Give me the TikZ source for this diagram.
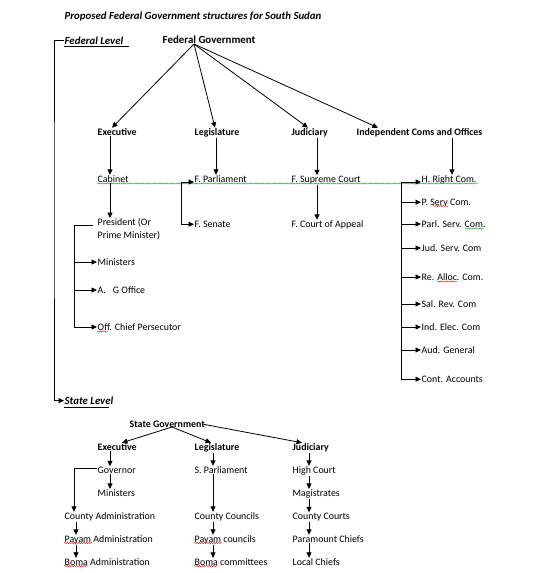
\documentclass[tikz,border=0pt]{standalone}
\usepackage{fontspec}
\setmainfont{Carlito}
\usetikzlibrary{arrows.meta,decorations.pathmorphing,calc}
\begin{document}
\begin{tikzpicture}[x=1pt,y=-1pt,
  every node/.style={inner sep=0.5pt,anchor=mid west,font=\fontsize{9.9}{13}\selectfont},
  hdr/.style={font=\fontsize{9.9}{13}\selectfont\bfseries},
  bi/.style={font=\fontsize{10.8}{13}\selectfont\bfseries\itshape},
  arr/.style={-{Triangle[length=5.5pt,width=5pt]},line width=0.8pt},
  ln/.style={line width=0.8pt},
  wavy/.style={decorate,decoration={snake,segment length=2.4pt,amplitude=0.6pt},line width=0.45pt},
  wg/.style={wavy,draw={rgb,255:red,40;green,170;blue,40}},
  wr/.style={wavy,draw={rgb,255:red,230;green,30;blue,30}}]
\useasboundingbox (0,0) rectangle (552,573);
% ---------- title and levels
\node[bi] (title) at (64,17) {Proposed Federal Government structures for South Sudan};
\node[bi] (fedlevel) at (64,42) {Federal Level};
\draw[ln] (64,46) -- (129,46);
\node[bi] (statelevel) at (64,402) {State Level};
\draw[ln] (64,407) -- (109,407);
\coordinate (lc) at (54,200);
\draw[arr] (fedlevel.west) -| (lc) |- (statelevel.west);
% ---------- federal
\node[font=\fontsize{10.9}{13}\selectfont\bfseries] (fedgov) at (162,41) {Federal Government};
\coordinate (fg) at (194,44);
\node[hdr] (exec) at (97,133) {Executive};
\node[hdr] (legis) at (194,133) {Legislature};
\node[hdr] (judic) at (291,133) {Judiciary};
\node[hdr] (indep) at (356,133) {Independent Coms and Offices};
\draw[arr] (fg) -- ($(exec.north west)+(15,0)$);
\draw[arr] (fg) -- ($(legis.north west)+(21,0)$);
\draw[arr] (fg) -- ($(judic.north west)+(17,0)$);
\draw[arr] (fg) -- ($(indep.north west)+(22,0)$);
\coordinate (xE) at (110,0);
\coordinate (xL) at (216,0);
\coordinate (xJ) at (317,0);
\coordinate (xI) at (452,0);
\node (cab) at (97,180) {Cabinet};
\node (fparl) at (194,180) {F. Parliament};
\node (fsup) at (291,180) {F. Supreme Court};
\node (hright) at (421,180) {H. Right Com.};
\draw[arr] (exec.south -| xE) -- (cab.north -| xE);
\draw[arr] (legis.south -| xL) -- (fparl.north -| xL);
\draw[arr] (judic.south -| xJ) -- (fsup.north -| xJ);
\draw[arr] (indep.south -| xI) -- (hright.north -| xI);
\draw[wg] (97,183.5) -- (478,183.5);
% executive branch
\node[anchor=north west,align=left] (pres) at (97,218) {President (Or\\Prime Minister)};
\node (min) at (97,263) {Ministers};
\node (ag) at (97,291) {A.\hspace{7pt}G Office};
\node (off) at (97,328) {Off. Chief Persecutor};
\draw[arr] (cab.south -| xE) -- (pres.north -| xE);
\coordinate (pL) at (93,225.5);
\coordinate (bl) at (74,225.5);
\draw[ln] (pL) -- (bl) -- (bl |- off.west);
\foreach \n in {min,ag,off} \draw[arr] (bl |- \n.west) -- (\n.west);
\draw[wr] (97,331.5) -- (108,331.5);
% legislature branch
\node (fsen) at (194,225) {F. Senate};
\coordinate (pb) at (181,182);
\draw[ln] (pb) -- (pb |- fsen.west);
\draw[arr] (pb) -- (fparl.west |- pb);
\draw[arr] (pb |- fsen.west) -- (fsen.west);
% judiciary branch
\node (fca) at (291,225) {F. Court of Appeal};
\draw[arr] (fsup.south -| xJ) -- (fca.north -| xJ);
% independent commissions
\node (pserv) at (421,203) {P. Serv Com.};
\node (parl) at (421,225) {Parl. Serv. Com.};
\node (jud) at (421,249) {Jud. Serv. Com};
\node (realloc) at (421,278) {Re. Alloc. Com.};
\node (sal) at (421,305) {Sal. Rev. Com};
\node (ind) at (421,328) {Ind. Elec. Com};
\node (aud) at (421,351) {Aud. General};
\node (cont) at (421,380) {Cont. Accounts};
\coordinate (rb) at (401,182);
\draw[ln] (rb) -- (rb |- cont.west);
\draw[arr] (rb) -- (hright.west |- rb);
\foreach \n in {pserv,parl,jud,realloc,sal,ind,aud,cont} \draw[arr] (rb |- \n.west) -- (\n.west);
\draw[wr] (433,206) -- (448,206);
\draw[wg] (465,228.5) -- (484,228.5);
\draw[wr] (437,281.5) -- (457,281.5);
% ---------- state
\node[hdr] (sgov) at (129,425) {State Government};
\coordinate (sg) at (172,427);
\coordinate (sgr) at (202,424);
\node[hdr] (sexec) at (97,448) {Executive};
\node[hdr] (sleg) at (194,448) {Legislature};
\node[hdr] (sjud) at (292,448) {Judiciary};
\draw[arr] (sg) -- ($(sexec.north west)+(25,0)$);
\draw[arr] (sg) -- ($(sleg.north west)+(17,0)$);
\draw[arr] (sgr) -- ($(sjud.north west)+(10,0)$);
\coordinate (sE) at (110,0);
\coordinate (sL) at (213,0);
\coordinate (sJ) at (309,0);
\coordinate (sC) at (76,0);
\node (gov) at (97,471) {Governor};
\node (smin) at (97,494) {Ministers};
\node (cadm) at (64,517) {County Administration};
\node (padm) at (64,540) {Payam Administration};
\node (badm) at (64,563) {Boma Administration};
\node (spar) at (194,471) {S. Parliament};
\node (ccoun) at (194,517) {County Councils};
\node (pcoun) at (194,540) {Payam councils};
\node (bcom) at (194,563) {Boma committees};
\node (hc) at (292,471) {High Court};
\node (mag) at (292,494) {Magistrates};
\node (ccourt) at (292,517) {County Courts};
\node (pchief) at (292,540) {Paramount Chiefs};
\node (lchief) at (292,563) {Local Chiefs};
\draw[arr] (sexec.south -| sE) -- (gov.north -| sE);
\draw[arr] (gov.south -| sE) -- (smin.north -| sE);
\coordinate (gl) at (74,468.5);
\draw[arr] (gov.west |- gl) -- (gl) -- (cadm.north -| gl);
\draw[arr] (cadm.south -| sC) -- (padm.north -| sC);
\draw[arr] (padm.south -| sC) -- (badm.north -| sC);
\draw[arr] (sleg.south -| sL) -- (spar.north -| sL);
\draw[arr] (spar.south -| sL) -- (ccoun.north -| sL);
\draw[arr] (ccoun.south -| sL) -- (pcoun.north -| sL);
\draw[arr] (pcoun.south -| sL) -- (bcom.north -| sL);
\draw[arr] (sjud.south -| sJ) -- (hc.north -| sJ);
\draw[arr] (hc.south -| sJ) -- (mag.north -| sJ);
\draw[arr] (mag.south -| sJ) -- (ccourt.north -| sJ);
\draw[arr] (ccourt.south -| sJ) -- (pchief.north -| sJ);
\draw[arr] (pchief.south -| sJ) -- (lchief.north -| sJ);
\draw[wr] (64,543) -- (92,543);
\draw[wr] (194,543) -- (222,543);
\draw[wr] (64,566) -- (88,566);
\draw[wr] (194,566) -- (218,566);
\end{tikzpicture}
\end{document}
